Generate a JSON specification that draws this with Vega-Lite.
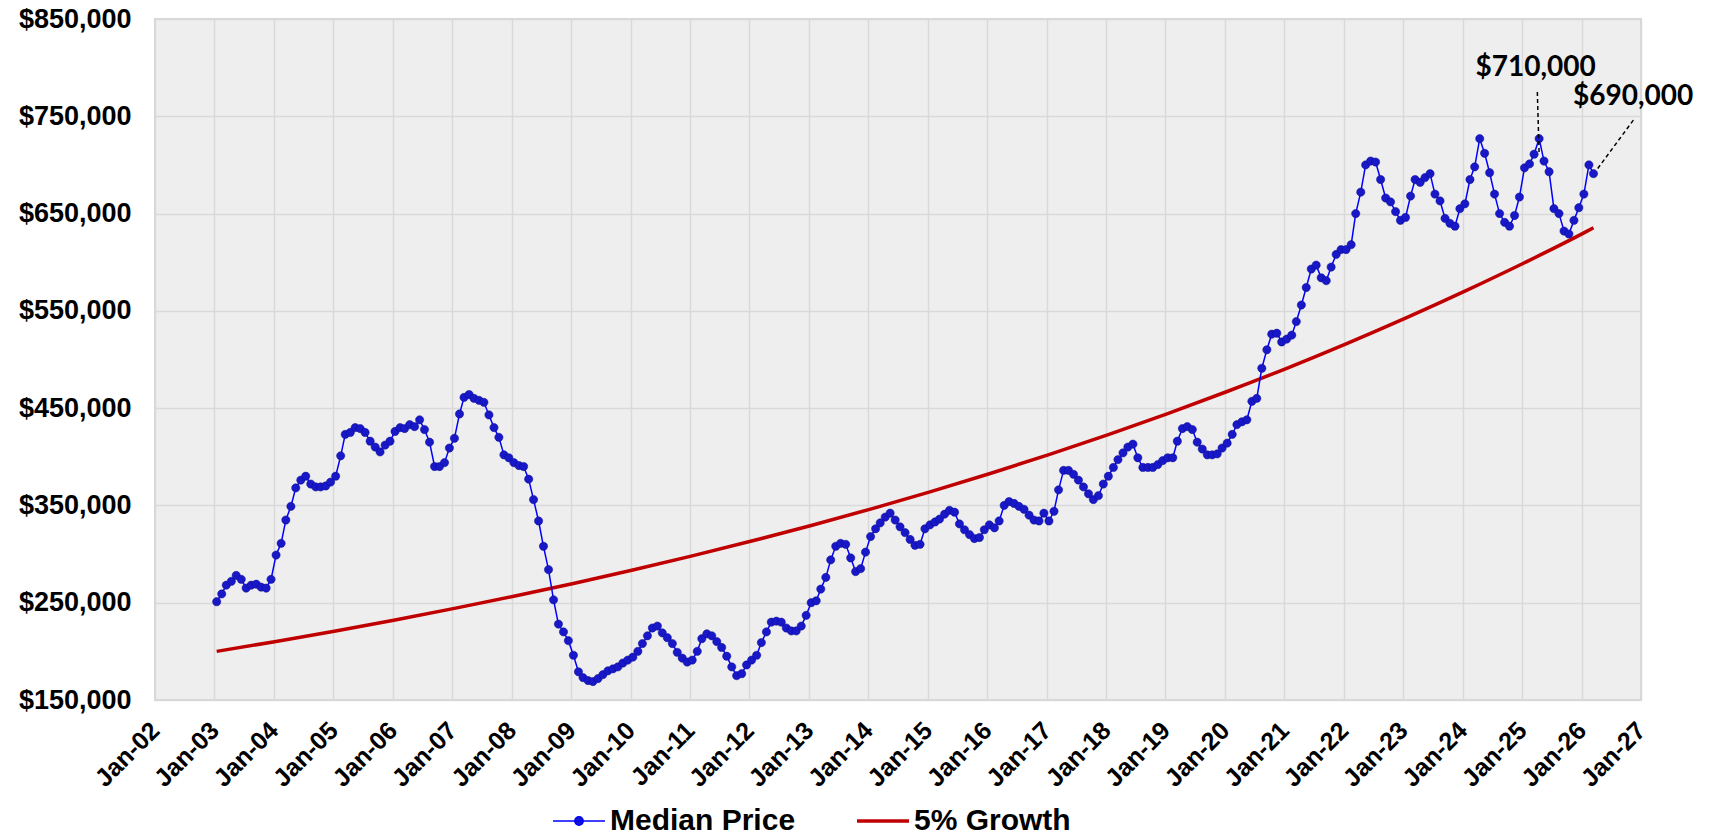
{
  "$schema": "https://vega.github.io/schema/vega-lite/v6.json",
  "width": 1486,
  "height": 681,
  "autosize": {"type": "none"},
  "padding": {"left": 155, "top": 19, "right": 68, "bottom": 140},
  "background": "white",
  "config": {
    "font": "Liberation Sans",
    "view": {"fill": "#EEEEEE", "stroke": "#D6D6D6", "strokeWidth": 2},
    "axis": {"labelFont": "Liberation Sans", "labelFontWeight": "bold", "labelColor": "#000000", "domain": false, "ticks": false, "gridColor": "#D9D9D9", "gridWidth": 1.5, "title": null}
  },
  "datasets": {
    "median": [
      {"d":"2003-01-15","v":251000},{"d":"2003-02-15","v":259000},{"d":"2003-03-15","v":268000},{"d":"2003-04-15","v":272000},{"d":"2003-05-15","v":278000},{"d":"2003-06-15","v":274000},{"d":"2003-07-15","v":265000},{"d":"2003-08-15","v":268000},{"d":"2003-09-15","v":269000},{"d":"2003-10-15","v":266000},{"d":"2003-11-15","v":265000},{"d":"2003-12-15","v":274000},
      {"d":"2004-01-15","v":299000},{"d":"2004-02-15","v":311000},{"d":"2004-03-15","v":335000},{"d":"2004-04-15","v":349000},{"d":"2004-05-15","v":368000},{"d":"2004-06-15","v":376000},{"d":"2004-07-15","v":380000},{"d":"2004-08-15","v":372000},{"d":"2004-09-15","v":369000},{"d":"2004-10-15","v":369000},{"d":"2004-11-15","v":370000},{"d":"2004-12-15","v":374000},
      {"d":"2005-01-15","v":380000},{"d":"2005-02-15","v":401000},{"d":"2005-03-15","v":423000},{"d":"2005-04-15","v":425000},{"d":"2005-05-15","v":430000},{"d":"2005-06-15","v":429000},{"d":"2005-07-15","v":425000},{"d":"2005-08-15","v":416000},{"d":"2005-09-15","v":410000},{"d":"2005-10-15","v":405000},{"d":"2005-11-15","v":412000},{"d":"2005-12-15","v":416000},
      {"d":"2006-01-15","v":426000},{"d":"2006-02-15","v":430000},{"d":"2006-03-15","v":429000},{"d":"2006-04-15","v":433000},{"d":"2006-05-15","v":431000},{"d":"2006-06-15","v":438000},{"d":"2006-07-15","v":428000},{"d":"2006-08-15","v":415000},{"d":"2006-09-15","v":390000},{"d":"2006-10-15","v":390000},{"d":"2006-11-15","v":394000},{"d":"2006-12-15","v":409000},
      {"d":"2007-01-15","v":419000},{"d":"2007-02-15","v":444000},{"d":"2007-03-15","v":461000},{"d":"2007-04-15","v":464000},{"d":"2007-05-15","v":460000},{"d":"2007-06-15","v":458000},{"d":"2007-07-15","v":456000},{"d":"2007-08-15","v":443000},{"d":"2007-09-15","v":430000},{"d":"2007-10-15","v":420000},{"d":"2007-11-15","v":402000},{"d":"2007-12-15","v":399000},
      {"d":"2008-01-15","v":394000},{"d":"2008-02-15","v":391000},{"d":"2008-03-15","v":390000},{"d":"2008-04-15","v":377000},{"d":"2008-05-15","v":356000},{"d":"2008-06-15","v":334000},{"d":"2008-07-15","v":308000},{"d":"2008-08-15","v":284000},{"d":"2008-09-15","v":253000},{"d":"2008-10-15","v":228000},{"d":"2008-11-15","v":220000},{"d":"2008-12-15","v":211000},
      {"d":"2009-01-15","v":196000},{"d":"2009-02-15","v":179000},{"d":"2009-03-15","v":173000},{"d":"2009-04-15","v":170000},{"d":"2009-05-15","v":169000},{"d":"2009-06-15","v":172000},{"d":"2009-07-15","v":176000},{"d":"2009-08-15","v":180000},{"d":"2009-09-15","v":182000},{"d":"2009-10-15","v":184000},{"d":"2009-11-15","v":188000},{"d":"2009-12-15","v":191000},
      {"d":"2010-01-15","v":194000},{"d":"2010-02-15","v":200000},{"d":"2010-03-15","v":208000},{"d":"2010-04-15","v":216000},{"d":"2010-05-15","v":224000},{"d":"2010-06-15","v":226000},{"d":"2010-07-15","v":219000},{"d":"2010-08-15","v":214000},{"d":"2010-09-15","v":208000},{"d":"2010-10-15","v":199000},{"d":"2010-11-15","v":193000},{"d":"2010-12-15","v":189000},
      {"d":"2011-01-15","v":191000},{"d":"2011-02-15","v":200000},{"d":"2011-03-15","v":213000},{"d":"2011-04-15","v":218000},{"d":"2011-05-15","v":216000},{"d":"2011-06-15","v":210000},{"d":"2011-07-15","v":204000},{"d":"2011-08-15","v":195000},{"d":"2011-09-15","v":184000},{"d":"2011-10-15","v":175000},{"d":"2011-11-15","v":177000},{"d":"2011-12-15","v":186000},
      {"d":"2012-01-15","v":191000},{"d":"2012-02-15","v":196000},{"d":"2012-03-15","v":209000},{"d":"2012-04-15","v":220000},{"d":"2012-05-15","v":230000},{"d":"2012-06-15","v":231000},{"d":"2012-07-15","v":230000},{"d":"2012-08-15","v":224000},{"d":"2012-09-15","v":221000},{"d":"2012-10-15","v":221000},{"d":"2012-11-15","v":226000},{"d":"2012-12-15","v":237000},
      {"d":"2013-01-15","v":250000},{"d":"2013-02-15","v":252000},{"d":"2013-03-15","v":264000},{"d":"2013-04-15","v":276000},{"d":"2013-05-15","v":294000},{"d":"2013-06-15","v":308000},{"d":"2013-07-15","v":311000},{"d":"2013-08-15","v":310000},{"d":"2013-09-15","v":296000},{"d":"2013-10-15","v":282000},{"d":"2013-11-15","v":285000},{"d":"2013-12-15","v":302000},
      {"d":"2014-01-15","v":318000},{"d":"2014-02-15","v":326000},{"d":"2014-03-15","v":332000},{"d":"2014-04-15","v":338000},{"d":"2014-05-15","v":342000},{"d":"2014-06-15","v":335000},{"d":"2014-07-15","v":328000},{"d":"2014-08-15","v":322000},{"d":"2014-09-15","v":315000},{"d":"2014-10-15","v":309000},{"d":"2014-11-15","v":310000},{"d":"2014-12-15","v":326000},
      {"d":"2015-01-15","v":330000},{"d":"2015-02-15","v":333000},{"d":"2015-03-15","v":336000},{"d":"2015-04-15","v":341000},{"d":"2015-05-15","v":345000},{"d":"2015-06-15","v":343000},{"d":"2015-07-15","v":331000},{"d":"2015-08-15","v":325000},{"d":"2015-09-15","v":320000},{"d":"2015-10-15","v":316000},{"d":"2015-11-15","v":317000},{"d":"2015-12-15","v":325000},
      {"d":"2016-01-15","v":330000},{"d":"2016-02-15","v":327000},{"d":"2016-03-15","v":334000},{"d":"2016-04-15","v":350000},{"d":"2016-05-15","v":354000},{"d":"2016-06-15","v":352000},{"d":"2016-07-15","v":349000},{"d":"2016-08-15","v":346000},{"d":"2016-09-15","v":340000},{"d":"2016-10-15","v":335000},{"d":"2016-11-15","v":334000},{"d":"2016-12-15","v":342000},
      {"d":"2017-01-15","v":334000},{"d":"2017-02-15","v":344000},{"d":"2017-03-15","v":366000},{"d":"2017-04-15","v":386000},{"d":"2017-05-15","v":386000},{"d":"2017-06-15","v":382000},{"d":"2017-07-15","v":376000},{"d":"2017-08-15","v":369000},{"d":"2017-09-15","v":362000},{"d":"2017-10-15","v":356000},{"d":"2017-11-15","v":360000},{"d":"2017-12-15","v":372000},
      {"d":"2018-01-15","v":380000},{"d":"2018-02-15","v":389000},{"d":"2018-03-15","v":397000},{"d":"2018-04-15","v":404000},{"d":"2018-05-15","v":410000},{"d":"2018-06-15","v":413000},{"d":"2018-07-15","v":399000},{"d":"2018-08-15","v":389000},{"d":"2018-09-15","v":389000},{"d":"2018-10-15","v":389000},{"d":"2018-11-15","v":392000},{"d":"2018-12-15","v":396000},
      {"d":"2019-01-15","v":399000},{"d":"2019-02-15","v":399000},{"d":"2019-03-15","v":416000},{"d":"2019-04-15","v":429000},{"d":"2019-05-15","v":431000},{"d":"2019-06-15","v":428000},{"d":"2019-07-15","v":415000},{"d":"2019-08-15","v":408000},{"d":"2019-09-15","v":402000},{"d":"2019-10-15","v":402000},{"d":"2019-11-15","v":403000},{"d":"2019-12-15","v":409000},
      {"d":"2020-01-15","v":414000},{"d":"2020-02-15","v":423000},{"d":"2020-03-15","v":433000},{"d":"2020-04-15","v":436000},{"d":"2020-05-15","v":438000},{"d":"2020-06-15","v":457000},{"d":"2020-07-15","v":460000},{"d":"2020-08-15","v":491000},{"d":"2020-09-15","v":510000},{"d":"2020-10-15","v":526000},{"d":"2020-11-15","v":527000},{"d":"2020-12-15","v":518000},
      {"d":"2021-01-15","v":521000},{"d":"2021-02-15","v":525000},{"d":"2021-03-15","v":539000},{"d":"2021-04-15","v":556000},{"d":"2021-05-15","v":574000},{"d":"2021-06-15","v":593000},{"d":"2021-07-15","v":597000},{"d":"2021-08-15","v":584000},{"d":"2021-09-15","v":581000},{"d":"2021-10-15","v":595000},{"d":"2021-11-15","v":608000},{"d":"2021-12-15","v":613000},
      {"d":"2022-01-15","v":613000},{"d":"2022-02-15","v":618000},{"d":"2022-03-15","v":650000},{"d":"2022-04-15","v":672000},{"d":"2022-05-15","v":700000},{"d":"2022-06-15","v":704000},{"d":"2022-07-15","v":703000},{"d":"2022-08-15","v":685000},{"d":"2022-09-15","v":666000},{"d":"2022-10-15","v":662000},{"d":"2022-11-15","v":652000},{"d":"2022-12-15","v":643000},
      {"d":"2023-01-15","v":646000},{"d":"2023-02-15","v":668000},{"d":"2023-03-15","v":685000},{"d":"2023-04-15","v":682000},{"d":"2023-05-15","v":687000},{"d":"2023-06-15","v":691000},{"d":"2023-07-15","v":670000},{"d":"2023-08-15","v":663000},{"d":"2023-09-15","v":645000},{"d":"2023-10-15","v":640000},{"d":"2023-11-15","v":637000},{"d":"2023-12-15","v":655000},
      {"d":"2024-01-15","v":660000},{"d":"2024-02-15","v":685000},{"d":"2024-03-15","v":698000},{"d":"2024-04-15","v":727000},{"d":"2024-05-15","v":712000},{"d":"2024-06-15","v":692000},{"d":"2024-07-15","v":670000},{"d":"2024-08-15","v":650000},{"d":"2024-09-15","v":641000},{"d":"2024-10-15","v":637000},{"d":"2024-11-15","v":648000},{"d":"2024-12-15","v":667000},
      {"d":"2025-01-15","v":697000},{"d":"2025-02-15","v":701000},{"d":"2025-03-15","v":711000},{"d":"2025-04-15","v":727000},{"d":"2025-05-15","v":704000},{"d":"2025-06-15","v":693000},{"d":"2025-07-15","v":655000},{"d":"2025-08-15","v":650000},{"d":"2025-09-15","v":632000},{"d":"2025-10-15","v":629000},{"d":"2025-11-15","v":643000},{"d":"2025-12-15","v":656000},
      {"d":"2026-01-15","v":670000},{"d":"2026-02-15","v":700000},{"d":"2026-03-15","v":691000}
    ],
    "growth": [
      {"d":"2003-01-15","v":200000},{"d":"2004-01-15","v":210232},{"d":"2005-01-15","v":220988},{"d":"2006-01-15","v":232295},{"d":"2007-01-15","v":244179},{"d":"2008-01-15","v":256672},{"d":"2009-01-15","v":269804},{"d":"2010-01-15","v":283608},{"d":"2011-01-15","v":298118},{"d":"2012-01-15","v":313370},{"d":"2013-01-15","v":329402},{"d":"2014-01-15","v":346255},{"d":"2015-01-15","v":363970},{"d":"2016-01-15","v":382592},{"d":"2017-01-15","v":402166},{"d":"2018-01-15","v":422741},{"d":"2019-01-15","v":444369},{"d":"2020-01-15","v":467104},{"d":"2021-01-15","v":491002},{"d":"2022-01-15","v":516123},{"d":"2023-01-15","v":542529},{"d":"2024-01-15","v":570285},{"d":"2025-01-15","v":599462},{"d":"2026-01-15","v":630132},{"d":"2026-03-15","v":635394}
    ],
    "notes": [
      {"d":"2025-03-25","v":800000,"t":"$710,000"},
      {"d":"2026-11-13","v":770000,"t":"$690,000"}
    ],
    "leaders": [
      {"d":"2025-04-04","v":775000,"d2":"2025-04-15","v2":711000},
      {"d":"2026-11-15","v":746000,"d2":"2026-04-04","v2":695000}
    ]
  },
  "encoding": {
    "x": {
      "field": "d", "type": "temporal",
      "scale": {"type": "utc", "domain": [{"year":2002,"month":1,"date":1,"utc":true},{"year":2027,"month":1,"date":1,"utc":true}], "nice": false},
      "axis": {
        "format": "%b-%y", "labelAngle": -45, "labelAlign": "right", "labelBaseline": "middle", "labelFontSize": 25, "labelPadding": 26, "labelOverlap": false,
        "values": [
          {"year":2002,"month":1,"date":1,"utc":true},{"year":2003,"month":1,"date":1,"utc":true},{"year":2004,"month":1,"date":1,"utc":true},{"year":2005,"month":1,"date":1,"utc":true},{"year":2006,"month":1,"date":1,"utc":true},{"year":2007,"month":1,"date":1,"utc":true},{"year":2008,"month":1,"date":1,"utc":true},{"year":2009,"month":1,"date":1,"utc":true},{"year":2010,"month":1,"date":1,"utc":true},{"year":2011,"month":1,"date":1,"utc":true},{"year":2012,"month":1,"date":1,"utc":true},{"year":2013,"month":1,"date":1,"utc":true},{"year":2014,"month":1,"date":1,"utc":true},{"year":2015,"month":1,"date":1,"utc":true},{"year":2016,"month":1,"date":1,"utc":true},{"year":2017,"month":1,"date":1,"utc":true},{"year":2018,"month":1,"date":1,"utc":true},{"year":2019,"month":1,"date":1,"utc":true},{"year":2020,"month":1,"date":1,"utc":true},{"year":2021,"month":1,"date":1,"utc":true},{"year":2022,"month":1,"date":1,"utc":true},{"year":2023,"month":1,"date":1,"utc":true},{"year":2024,"month":1,"date":1,"utc":true},{"year":2025,"month":1,"date":1,"utc":true},{"year":2026,"month":1,"date":1,"utc":true},{"year":2027,"month":1,"date":1,"utc":true}
        ]
      }
    },
    "y": {
      "field": "v", "type": "quantitative",
      "scale": {"domain": [150000, 850000], "nice": false, "zero": false},
      "axis": {"values": [150000,250000,350000,450000,550000,650000,750000,850000], "format": "$,.0f", "labelFontSize": 27, "labelPadding": 24}
    }
  },
  "layer": [
    {
      "data": {"name": "growth"},
      "mark": {"type": "line", "strokeWidth": 3.5, "interpolate": "monotone"},
      "encoding": {
        "color": {
          "datum": "5% Growth",
          "scale": {"domain": ["Median Price", "5% Growth"], "range": ["#0000FF", "#C00000"]},
          "legend": {
            "orient": "none", "legendX": 409, "legendY": 787, "direction": "horizontal", "title": null,
            "labelFont": "Liberation Sans", "labelFontSize": 30, "labelFontWeight": "bold", "labelColor": "#000000", "labelLimit": 500,
            "symbolSize": 2704, "columnPadding": 54, "labelOffset": 16,
            "encode": {
              "symbols": {
                "update": {
                  "shape": {"signal": "datum.value == 'Median Price' ? 'M-1,0H1M0.16,0A0.16,0.16,0,1,1,-0.16,0A0.16,0.16,0,1,1,0.16,0' : 'M-1,0H1'"},
                  "strokeWidth": {"signal": "datum.value == 'Median Price' ? 1.5 : 3.5"},
                  "fill": {"signal": "datum.value == 'Median Price' ? '#1818C8' : 'transparent'"}
                }
              }
            }
          }
        }
      }
    },
    {
      "data": {"name": "median"},
      "mark": {"type": "line", "strokeWidth": 1.5},
      "encoding": {"color": {"datum": "Median Price"}}
    },
    {
      "data": {"name": "median"},
      "mark": {"type": "point", "filled": true, "size": 68, "color": "#1818C8", "opacity": 1, "stroke": "#0A0A90", "strokeWidth": 0.5}
    },
    {
      "data": {"name": "leaders"},
      "mark": {"type": "rule", "color": "#000000", "strokeWidth": 1.5, "strokeDash": [4, 3]},
      "encoding": {
        "x2": {"field": "d2"},
        "y2": {"field": "v2"}
      }
    },
    {
      "data": {"name": "notes"},
      "mark": {"type": "text", "font": "Lato", "fontWeight": "bold", "fontSize": 28, "color": "#000000", "align": "center", "baseline": "middle"},
      "encoding": {"text": {"field": "t"}}
    }
  ]
}
